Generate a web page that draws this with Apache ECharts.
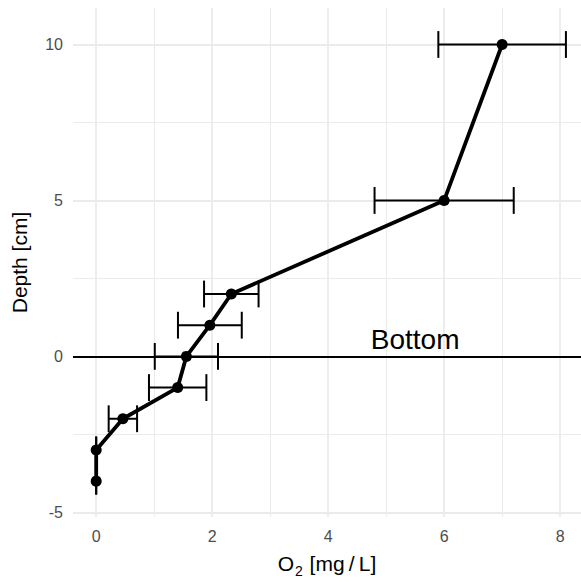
<!DOCTYPE html>
<html>
<head>
<meta charset="utf-8">
<script src="https://cdn.jsdelivr.net/npm/echarts@6/dist/echarts.min.js"></script>
<style>
html,body{margin:0;padding:0;background:#fff;}
#chart{width:581px;height:583px;}
</style>
</head>
<body>
<div id="chart"></div>
<script>
// Data
const depth = [-4, -3, -2, -1, 0, 1, 2, 5, 10];
const o2Mean = [0, 0, 0.46, 1.405, 1.555, 1.96, 2.33, 6.0, 7.0];
const o2Err = [0, 0, 0.245, 0.495, 0.545, 0.55, 0.47, 1.2, 1.1];
const xMajorTicks = [0, 2, 4, 6, 8];
const xMinorTicks = [1, 3, 5, 7];
const yMajorTicks = [-5, 0, 5, 10];
const yMinorTicks = [-2.5, 2.5, 7.5];
const bottomLabel = { text: 'Bottom', x: 5.5, y: 0 };

const FONT = 'Liberation Sans, Arial, Helvetica, sans-serif';
const capHalf = 0.43;

const chart = echarts.init(document.getElementById('chart'), null, { renderer: 'svg' });

const gridLines = [];
xMajorTicks.forEach(v => gridLines.push({ xAxis: v, lineStyle: { color: '#ebebeb', width: 1.8, type: 'solid' } }));
xMinorTicks.forEach(v => gridLines.push({ xAxis: v, lineStyle: { color: '#ebebeb', width: 1, type: 'solid' } }));
yMajorTicks.forEach(v => gridLines.push({ yAxis: v, lineStyle: { color: '#ebebeb', width: 1.8, type: 'solid' } }));
yMinorTicks.forEach(v => gridLines.push({ yAxis: v, lineStyle: { color: '#ebebeb', width: 1, type: 'solid' } }));

const errData = o2Mean.map((v, i) => [v - o2Err[i], depth[i], v + o2Err[i]]);
const lineData = o2Mean.map((v, i) => [v, depth[i]]);

chart.setOption({
  animation: false,
  backgroundColor: '#ffffff',
  grid: { left: 73, right: 0, top: 8, bottom: 64, containLabel: false },
  xAxis: {
    type: 'value', min: -0.4, max: 8.36,
    axisLine: { show: false }, axisTick: { show: false }, splitLine: { show: false },
    axisLabel: { customValues: xMajorTicks, color: '#4d4d4d', fontSize: 16, fontFamily: FONT, margin: 11 },
    name: '{a|O}{s|2}{a| [mg\u2009/\u2009L]}',
    nameLocation: 'middle', nameGap: 34,
    nameTextStyle: {
      color: '#000', fontFamily: FONT,
      rich: {
        a: { fontSize: 21, fontFamily: FONT, color: '#000', lineHeight: 24 },
        s: { fontSize: 14, fontFamily: FONT, color: '#000', verticalAlign: 'bottom', lineHeight: 14, padding: [0, 1, -3, 1] }
      }
    }
  },
  yAxis: {
    type: 'value', min: -5.15, max: 11.17,
    axisLine: { show: false }, axisTick: { show: false }, splitLine: { show: false },
    axisLabel: { customValues: yMajorTicks, color: '#4d4d4d', fontSize: 16, fontFamily: FONT, margin: 10 },
    name: 'Depth [cm]', nameLocation: 'middle', nameRotate: 90, nameGap: 43,
    nameTextStyle: { color: '#000', fontSize: 21, fontFamily: FONT }
  },
  series: [
    {
      type: 'line', data: [], silent: true, z: 1,
      markLine: { silent: true, z: 1, symbol: 'none', label: { show: false }, animation: false, data: gridLines }
    },
    {
      type: 'line', data: [], silent: true, z: 2,
      markLine: { silent: true, z: 2, symbol: 'none', label: { show: false }, animation: false,
        data: [{ yAxis: 0, lineStyle: { color: '#000', width: 1.8, type: 'solid' } }] }
    },
    {
      type: 'custom', z: 6, silent: true,
      data: errData,
      encode: { x: [0, 2], y: 1 },
      renderItem: function (params, api) {
        const lo = api.value(0), y = api.value(1), hi = api.value(2);
        const pL = api.coord([lo, y]);
        const pR = api.coord([hi, y]);
        const yt = api.coord([lo, y + capHalf])[1];
        const yb = api.coord([lo, y - capHalf])[1];
        const st = { stroke: '#000', lineWidth: 2, fill: null };
        return {
          type: 'group',
          children: [
            { type: 'line', shape: { x1: pL[0], y1: pL[1], x2: pR[0], y2: pR[1] }, style: st },
            { type: 'line', shape: { x1: pL[0], y1: yt, x2: pL[0], y2: yb }, style: st },
            { type: 'line', shape: { x1: pR[0], y1: yt, x2: pR[0], y2: yb }, style: st }
          ]
        };
      }
    },
    {
      type: 'line', z: 7, silent: true,
      data: lineData,
      symbol: 'circle', symbolSize: 11, showSymbol: true,
      lineStyle: { color: '#000', width: 3.8 },
      itemStyle: { color: '#000' }
    },
    {
      type: 'custom', z: 8, silent: true,
      data: [[bottomLabel.x, bottomLabel.y]],
      renderItem: function (params, api) {
        const p = api.coord([api.value(0), api.value(1)]);
        return {
          type: 'text',
          style: { text: bottomLabel.text, x: p[0], y: p[1] - 3, align: 'center', verticalAlign: 'bottom',
            fill: '#000', fontSize: 28, fontFamily: FONT }
        };
      }
    }
  ]
});
</script>
</body>
</html>
